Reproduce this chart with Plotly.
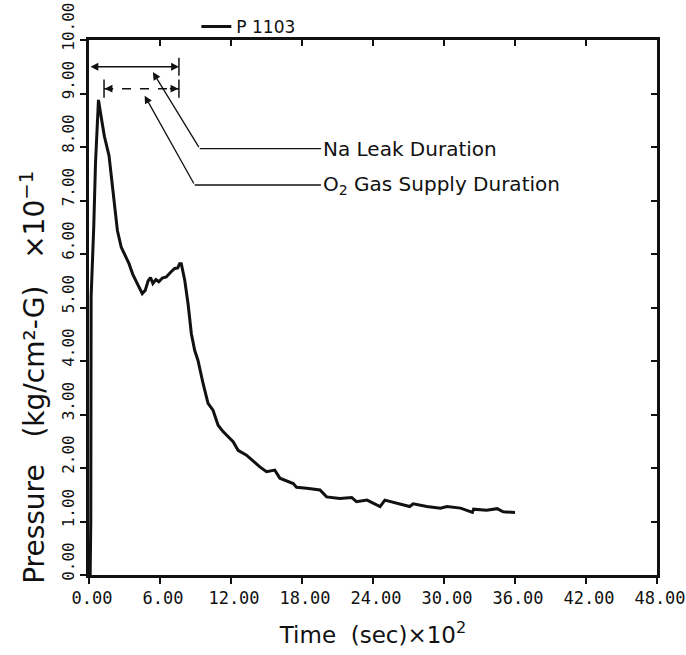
import plotly.graph_objects as go

# Time (x10^2 s) and pressure (x10^-1 kg/cm2-G)
time = [0.10, 0.15, 0.18, 0.25, 0.40, 0.55, 0.80, 1.03, 1.30, 1.69, 2.00, 2.40, 2.72,
        3.00, 3.38, 3.70, 4.00, 4.50, 4.75, 5.00, 5.20, 5.40, 5.65, 5.90, 6.20,
        6.53, 6.90, 7.24, 7.50, 7.66, 7.80, 8.09, 8.37, 8.65, 8.93, 9.21, 9.64,
        10.06, 10.48, 10.91, 11.33, 12.18, 12.60, 13.31, 14.44, 15.00, 15.70,
        16.13, 17.26, 17.54, 18.39, 19.52, 20.08, 21.20, 22.20, 22.60, 23.50,
        24.60, 25.00, 26.00, 27.10, 27.40, 28.55, 29.70, 30.25, 31.40, 32.40,
        32.50, 33.60, 34.50, 35.00, 36.00]
pressure = [0.00, 1.00, 5.20, 5.60, 6.50, 7.70, 8.88, 8.56, 8.20, 7.84, 7.20, 6.44, 6.13,
            6.00, 5.82, 5.62, 5.48, 5.26, 5.32, 5.50, 5.56, 5.45, 5.52, 5.48, 5.55,
            5.57, 5.66, 5.73, 5.74, 5.82, 5.82, 5.51, 5.07, 4.51, 4.20, 4.01, 3.58,
            3.21, 3.08, 2.80, 2.68, 2.49, 2.33, 2.24, 2.02, 1.93, 1.96,
            1.81, 1.71, 1.64, 1.62, 1.59, 1.46, 1.43, 1.45, 1.37, 1.40,
            1.28, 1.40, 1.34, 1.28, 1.33, 1.28, 1.25, 1.28, 1.25, 1.17,
            1.23, 1.21, 1.24, 1.18, 1.17]

series_name = "P 1103"
x_ticks = [0, 6, 12, 18, 24, 30, 36, 42, 48]
y_ticks = [0, 1, 2, 3, 4, 5, 6, 7, 8, 9, 10]

# Duration markers (x10^2 s) and their level on the pressure axis
na_leak = [0.0, 7.6]
na_level = 9.5
o2_supply = [1.27, 7.6]
o2_level = 9.09

# Leader callouts: arrow tip, elbow, text position
na_tip = (5.40, 9.40)
na_elbow = (9.36, 7.97)
o2_tip = (4.70, 8.96)
o2_elbow = (8.93, 7.29)
label_x = 19.6
na_label = "Na Leak Duration"
o2_label = "O<sub>2</sub> Gas Supply Duration"

INK = "#111111"
TEXT_FONT = "DejaVu Sans"

fig = go.Figure()

fig.add_trace(go.Scatter(
    x=time, y=pressure, mode="lines", name=series_name,
    line=dict(color=INK, width=3), showlegend=True))

# dashed O2 supply duration line with end bars
fig.add_trace(go.Scatter(
    x=o2_supply, y=[o2_level, o2_level], mode="lines+markers",
    line=dict(color=INK, width=1.5, dash="dash"),
    marker=dict(symbol="line-ns-open", size=13, color=INK, line=dict(color=INK, width=1.5)),
    showlegend=False, hoverinfo="skip"))

# bar at right end of Na leak duration
fig.add_trace(go.Scatter(
    x=[na_leak[1]], y=[na_level], mode="markers",
    marker=dict(symbol="line-ns-open", size=13, color=INK, line=dict(color=INK, width=1.5)),
    showlegend=False, hoverinfo="skip"))

# horizontal leader segments
fig.add_trace(go.Scatter(
    x=[na_elbow[0], label_x], y=[na_elbow[1], na_elbow[1]], mode="lines",
    line=dict(color=INK, width=1.3), showlegend=False, hoverinfo="skip"))
fig.add_trace(go.Scatter(
    x=[o2_elbow[0], label_x], y=[o2_elbow[1], o2_elbow[1]], mode="lines",
    line=dict(color=INK, width=1.3), showlegend=False, hoverinfo="skip"))

# helper trace for the inner-tick top/right axes
fig.add_trace(go.Scatter(x=[None], y=[None], xaxis="x2", yaxis="y2",
                         showlegend=False, hoverinfo="skip"))

annotations = [
    # Na leak double arrow
    dict(x=na_leak[1], y=na_level, ax=na_leak[0], ay=na_level,
         xref="x", yref="y", axref="x", ayref="y", text="",
         showarrow=True, arrowhead=2, startarrowhead=2, arrowside="end+start",
         arrowsize=1.2, arrowwidth=1.3, arrowcolor=INK, standoff=0, startstandoff=0),
    # O2 arrowheads
    dict(x=o2_supply[0] + 0.05, y=o2_level, ax=o2_supply[0] + 0.9, ay=o2_level,
         xref="x", yref="y", axref="x", ayref="y", text="",
         showarrow=True, arrowhead=2, arrowsize=1.2, arrowwidth=1.3, arrowcolor=INK),
    dict(x=o2_supply[1] - 0.05, y=o2_level, ax=o2_supply[1] - 0.9, ay=o2_level,
         xref="x", yref="y", axref="x", ayref="y", text="",
         showarrow=True, arrowhead=2, arrowsize=1.2, arrowwidth=1.3, arrowcolor=INK),
    # leader diagonals
    dict(x=na_tip[0], y=na_tip[1], ax=na_elbow[0], ay=na_elbow[1],
         xref="x", yref="y", axref="x", ayref="y", text="",
         showarrow=True, arrowhead=2, arrowsize=1.2, arrowwidth=1.3, arrowcolor=INK),
    dict(x=o2_tip[0], y=o2_tip[1], ax=o2_elbow[0], ay=o2_elbow[1],
         xref="x", yref="y", axref="x", ayref="y", text="",
         showarrow=True, arrowhead=2, arrowsize=1.2, arrowwidth=1.3, arrowcolor=INK),
    # labels
    dict(x=label_x, y=na_elbow[1], xref="x", yref="y", text=na_label,
         showarrow=False, xanchor="left", yanchor="middle",
         font=dict(family=TEXT_FONT, size=20, color=INK)),
    dict(x=label_x, y=o2_elbow[1], xref="x", yref="y", text=o2_label,
         showarrow=False, xanchor="left", yanchor="middle",
         font=dict(family=TEXT_FONT, size=20, color=INK)),
    # y-axis title
    dict(x=-0.099, y=0.37, xref="paper", yref="paper",
         text="Pressure   (kg/cm²-G)   ×10<sup>−1</sup>",
         textangle=-90, showarrow=False, xanchor="center", yanchor="middle",
         font=dict(family=TEXT_FONT, size=28, color=INK)),
]

fig.update_layout(
    width=686, height=655,
    margin=dict(l=89, r=29, t=40, b=80, autoexpand=False),
    paper_bgcolor="white", plot_bgcolor="white",
    showlegend=True,
    legend=dict(x=0.189, y=1.058, xanchor="left", yanchor="top",
                bgcolor="rgba(0,0,0,0)", font=dict(family=TEXT_FONT, size=17, color=INK)),
    annotations=annotations,
    xaxis=dict(range=[0, 48], tickvals=x_ticks, tickformat=".2f", automargin=False,
               ticks="outside", ticklen=6, tickwidth=1.5, tickcolor=INK,
               ticklabelshift=3,
               showline=True, linewidth=2.5, linecolor=INK, mirror=True,
               showgrid=False, zeroline=False,
               tickfont=dict(family="DejaVu Sans Mono", size=17, color=INK),
               title=dict(text="Time  (sec)×10<sup>2</sup>",
                          font=dict(family=TEXT_FONT, size=23, color=INK), standoff=20)),
    yaxis=dict(range=[0, 10], tickvals=y_ticks, tickformat=".2f", tickangle=-90,
               automargin=False, ticklabelshift=-11,
               ticks="outside", ticklen=6, tickwidth=1.5, tickcolor=INK,
               showline=True, linewidth=2.5, linecolor=INK, mirror=True,
               showgrid=False, zeroline=False,
               tickfont=dict(family="DejaVu Sans Mono", size=16, color=INK)),
    xaxis2=dict(range=[0, 48], tickvals=x_ticks, overlaying="x", side="top",
                ticks="inside", ticklen=6, tickwidth=1.5, tickcolor=INK, automargin=False,
                showticklabels=False, showline=False, showgrid=False, zeroline=False),
    yaxis2=dict(range=[0, 10], tickvals=y_ticks, overlaying="y", side="right",
                ticks="inside", ticklen=6, tickwidth=1.5, tickcolor=INK, automargin=False,
                showticklabels=False, showline=False, showgrid=False, zeroline=False),
)

fig.write_html("out.html", config={"displayModeBar": False},
               post_script="document.body.style.margin='0';document.body.style.padding='0';")
